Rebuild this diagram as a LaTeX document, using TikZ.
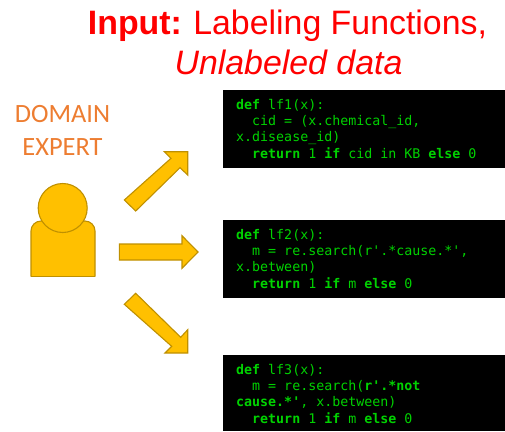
\documentclass[tikz,border=0pt]{standalone}
\usepackage{fontspec}
\setmainfont{Liberation Sans}
\setmonofont{DejaVu Sans Mono}
\newfontfamily\calibrifont{Carlito}
\definecolor{amberfill}{HTML}{FFC000}
\definecolor{amberline}{HTML}{BF9000}
\definecolor{expertorange}{HTML}{ED7D31}
\definecolor{codegreen}{HTML}{00D200}
\definecolor{titlered}{HTML}{FF0000}
\tikzset{
  blockshape/.style={fill=amberfill,draw=amberline,line width=1.1bp,line join=miter},
  codepanel/.style={fill=black,draw=none},
  codetext/.style={anchor=base west,inner sep=0pt,text=codegreen,align=left,font=\fontsize{13.35}{16.4}\selectfont\ttfamily},
  titletext/.style={anchor=base,inner sep=0pt,text=titlered,font=\fontsize{34}{38}\selectfont},
  experttext/.style={anchor=base,inner sep=0pt,text=expertorange,font=\fontsize{26.5}{30}\calibrifont\selectfont},
}
\newcommand{\kw}[1]{\textbf{#1}}
\newcommand{\ind}{\phantom{xx}}
\begin{document}
\begin{tikzpicture}[x=1bp,y=-1bp]
\useasboundingbox (0,0) rectangle (505,431);
% title
\node[titletext] (titleA) at (287.5,34) {\textbf{Input:}\hspace{-1.2bp} Labeling Functions,};
\node[titletext] (titleB) at (288.5,74) {\textit{Unlabeled data}};
% expert label
\node[experttext] (exA) at (62.5,122.7) {DOMAIN};
\node[experttext] (exB) at (62.5,155.7) {EXPERT};
% person
\draw[blockshape,rounded corners=10bp] (31,276.7) -- (31,221) -- (95,221) -- (95,276.7);
\draw[blockshape] (31,276.7) -- (95,276.7);
\draw[blockshape] (62.7,208) circle[radius=24.5];
% block arrows
\draw[blockshape] (124.3,200) -- (171,158.3) -- (164.3,151.7) -- (187.7,151.7) -- (187.7,175) -- (180,167.7) -- (135.7,211) -- cycle;
\draw[blockshape] (119.3,244) -- (182,244) -- (182,235.7) -- (198,252) -- (182,268.3) -- (182,260) -- (119.3,260) -- cycle;
\draw[blockshape] (135.7,293.3) -- (180.7,337.3) -- (187.7,329.7) -- (187.7,353) -- (165,353) -- (171.7,346.3) -- (124.3,304.3) -- cycle;
% code panels
\fill[codepanel] (223,90) rectangle (505,167.7);
\fill[codepanel] (223,219.7) rectangle (505,297.7);
\fill[codepanel] (223,355) rectangle (505,431);
\node[codetext] (codeA) at (236,158.3) {\kw{def} lf1(x):\\\ind cid = (x.chemical\_id,\\x.disease\_id)\\\ind\kw{return} 1 \kw{if} cid in KB \kw{else} 0};
\node[codetext] (codeB) at (236,288.3) {\kw{def} lf2(x):\\\ind m = re.search(r'.*cause.*',\\x.between)\\\ind\kw{return} 1 \kw{if} m \kw{else} 0};
\node[codetext] (codeC) at (236,423.3) {\kw{def} lf3(x):\\\ind m = re.search(\kw{r'.*not}\\\kw{cause.*'}, x.between)\\\ind\kw{return} 1 \kw{if} m \kw{else} 0};
\end{tikzpicture}
\end{document}
